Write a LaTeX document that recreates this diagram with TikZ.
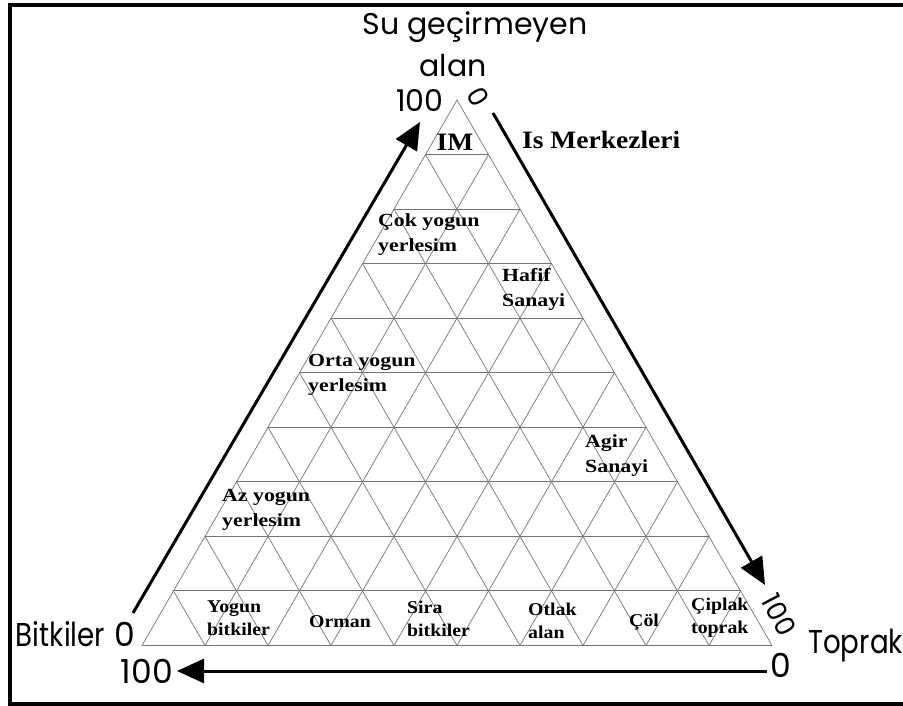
\documentclass[tikz,border=0pt]{standalone}
\usepackage{fontspec}
\setmainfont{Liberation Serif}
\newfontfamily\lblsans{Poppins}
\newfontfamily\condsans[FakeStretch=0.84]{Poppins}
\newfontfamily\serifwide[FakeStretch=1.18]{Liberation Serif}
\newfontfamily\serifmid[FakeStretch=1.1]{Liberation Serif}
\usetikzlibrary{calc,arrows.meta}
\begin{document}
\begin{tikzpicture}[x=1pt,y=-1pt,
  gridline/.style={draw=black!50, line width=0.8pt},
  hgridline/.style={draw=black!55, line width=1pt},
  edgearrow/.style={draw=black, line width=3pt, -{Triangle[length=27pt,width=24pt]}},
  region/.style={font=\serifwide\bfseries\fontsize{18.5}{25}\selectfont, align=left, inner sep=0pt, anchor=west},
  lowregion/.style={font=\serifmid\bfseries\fontsize{18}{23}\selectfont, align=left, inner sep=0pt, anchor=west},
  bigtitle/.style={font=\serifmid\bfseries\fontsize{25}{25}\selectfont, inner sep=0pt},
  axistop/.style={font=\lblsans\fontsize{30}{30}\selectfont, inner sep=0pt},
  axisbot/.style={font=\lblsans\fontsize{33}{33}\selectfont, inner sep=0pt},
  axisrot/.style={font=\lblsans\fontsize{27}{27}\selectfont, inner sep=0pt},
]
\useasboundingbox (0,0) rectangle (903,706);
\draw[line width=4pt] (903,704) -- (10,704) -- (10,5.5) -- (903,5.5);

\coordinate (A) at (142,645.5);
\coordinate (B) at (772,645.5);
\coordinate (C) at (457,100);
\draw[gridline] (A) -- (C) -- (B);
\draw[hgridline] (A) -- (B);
\foreach \i in {1,...,9} {
  \pgfmathsetmacro\f{\i/10}
  \draw[gridline] ($(A)!\f!(B)$) -- ($(A)!\f!(C)$);
  \draw[gridline] ($(B)!\f!(A)$) -- ($(B)!\f!(C)$);
  \draw[hgridline] ($(A)!\f!(C)$) -- ($(B)!\f!(C)$);
}

\coordinate (l1) at (133,613); \coordinate (l2) at (420,122);
\coordinate (r1) at (493,113); \coordinate (r2) at (765,585);
\coordinate (b1) at (767,671); \coordinate (b2) at (177,671);
\draw[edgearrow] (l1) -- (l2);
\draw[edgearrow] (r1) -- (r2);
\draw[edgearrow] (b1) -- (b2);

% axis labels
\node[axistop, anchor=base] (su) at (475,35) {Su geçirmeyen};
\node[axistop, anchor=base] (alan) at (453,77) {alan};
\node[axistop, anchor=base] (t100) at (420,112) {100};
\node[axisrot, rotate=-60] (t0) at (478,97) {0};
\node[axisbot, anchor=base east] (bit) at (135,646) {{\condsans Bitkiler} 0};
\node[axisbot, anchor=base east] (b100) at (173,683) {100};
\node[axisbot, anchor=base west] (top) at (808,653) {\condsans Toprak};
\node[axisbot] (b0) at (781,665) {0};
\node[axisrot, rotate=-62] (r100) at (779.5,615) {100};

% region labels
\node[bigtitle] (im) at (455,142) {IM};
\node[bigtitle, anchor=west] (ism) at (522,140) {Is Merkezleri};
\node[region] (cok) at (378,234.5) {Çok yogun\\yerlesim};
\node[region] (haf) at (502,289) {Hafif\\Sanayi};
\node[region] (orta) at (308,375) {Orta yogun\\yerlesim};
\node[region] (az) at (222,509.5) {Az yogun\\yerlesim};
\node[region] (agir) at (585,455.5) {Agir\\Sanayi};
\node[lowregion] (yog) at (207,618.5) {Yogun\\bitkiler};
\node[lowregion] (orm) at (309,622) {Orman};
\node[lowregion] (sira) at (407,618.5) {Sira\\bitkiler};
\node[lowregion] (otl) at (528,621) {Otlak\\alan};
\node[lowregion] (col) at (629,622) {Çöl};
\node[lowregion] (cip) at (691,617.5) {Çiplak\\toprak};
\end{tikzpicture}
\end{document}
